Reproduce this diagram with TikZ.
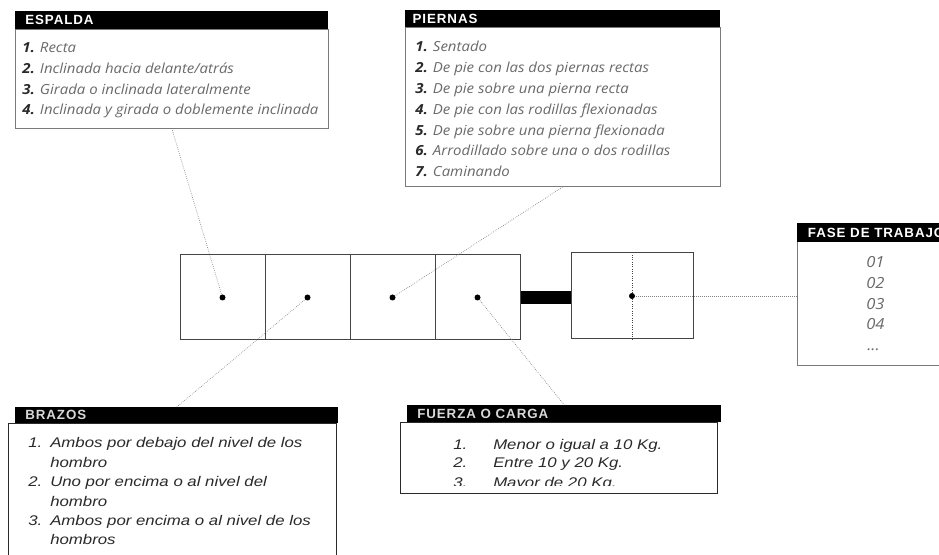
\documentclass[tikz,border=0pt]{standalone}
\usepackage{fontspec}
\setmainfont{Liberation Sans}
\newfontfamily\hdrfont[LetterSpace=7]{Liberation Sans}
\newfontfamily\listfont[FakeStretch=1.08]{Open Sans}
\newfontfamily\formfont[FakeStretch=1.2]{Liberation Sans}
\definecolor{listgray}{HTML}{6A6A6A}
\definecolor{numgray}{HTML}{2A2A2A}
\definecolor{edgegray}{HTML}{7A7A7A}
\definecolor{cellline}{HTML}{444444}
\definecolor{dimwhite}{HTML}{D8D8D8}
% lengths given in pixel units of the drawing grid
\newcommand{\pw}[1]{#1*0.75pt}
\begin{document}
\begin{tikzpicture}[x=0.75pt,y=-0.75pt,
  hdrbar/.style={fill=black, draw=none, anchor=north west, inner sep=0pt},
  hdrtext/.style={anchor=west, inner sep=0pt, text=white,
    font=\hdrfont\bfseries\fontsize{10}{12}\selectfont},
  listbody/.style={anchor=north west, inner sep=0pt, draw=edgegray, line width=0.6pt},
  formbody/.style={anchor=north west, inner sep=0pt, draw=numgray, line width=0.8pt},
  softitem/.style={anchor=base west, inner sep=0pt, text=listgray,
    font=\listfont\itshape\fontsize{10.4}{12}\selectfont},
  formitem/.style={anchor=base west, inner sep=0pt, text=numgray,
    font=\formfont\itshape\fontsize{10.5}{12}\selectfont},
  cell/.style={draw=cellline, line width=0.75pt, minimum width=\pw{85},
    minimum height=\pw{85}, inner sep=0pt},
  leader/.style={draw=gray, line width=0.5pt, densely dotted},
  hubdot/.style={fill=black},
]
\path[use as bounding box, clip] (0,0) rectangle (939,555);
\fill[white] (0,0) rectangle (939,555);

% ---------- posture cells ----------
\node[cell] (c1) at (222.5,297.5) {};
\node[cell] (c2) at (307.5,297.5) {};
\node[cell] (c3) at (392.5,297.5) {};
\node[cell] (c4) at (477.5,297.5) {};
\node[draw=cellline, line width=0.75pt, minimum width=\pw{122},
  minimum height=\pw{86}, inner sep=0pt] (phase) at (632,296) {};
\draw[cellline, densely dotted, line width=0.75pt] (phase.north) -- (phase.south);
\draw[line width=\pw{13}] (c4.east) -- (c4.east -| phase.west);

% ---------- ESPALDA ----------
\node[hdrbar, minimum width=\pw{313}, minimum height=\pw{18}] (espH) at (15,11) {};
\node[hdrtext] (espT) at ([xshift=7.5pt]espH.west) {ESPALDA};
\node[listbody, minimum width=\pw{313}, minimum height=\pw{99}] (esp) at (15,29) {};
\node[softitem] (esp1) at (22,53.0) {\textbf{\color{numgray}1.} Recta};
\node[softitem] (esp2) at (22,73.6) {\textbf{\color{numgray}2.} Inclinada hacia delante/atrás};
\node[softitem] (esp3) at (22,94.2) {\textbf{\color{numgray}3.} Girada o inclinada lateralmente};
\node[softitem] (esp4) at (22,114.8) {\textbf{\color{numgray}4.} Inclinada y girada o doblemente inclinada};

% ---------- PIERNAS ----------
\node[hdrbar, minimum width=\pw{315}, minimum height=\pw{17}] (pieH) at (405,10) {};
\node[hdrtext] (pieT) at ([xshift=5.5pt]pieH.west) {PIERNAS};
\node[listbody, minimum width=\pw{315}, minimum height=\pw{159}] (pie) at (405,27) {};
\node[softitem] (pie1) at (415,52.0) {\textbf{\color{numgray}1.} Sentado};
\node[softitem] (pie2) at (415,72.8) {\textbf{\color{numgray}2.} De pie con las dos piernas rectas};
\node[softitem] (pie3) at (415,93.6) {\textbf{\color{numgray}3.} De pie sobre una pierna recta};
\node[softitem] (pie4) at (415,114.4) {\textbf{\color{numgray}4.} De pie con las rodillas flexionadas};
\node[softitem] (pie5) at (415,135.2) {\textbf{\color{numgray}5.} De pie sobre una pierna flexionada};
\node[softitem] (pie6) at (415,156.0) {\textbf{\color{numgray}6.} Arrodillado sobre una o dos rodillas};
\node[softitem] (pie7) at (415,176.8) {\textbf{\color{numgray}7.} Caminando};

% ---------- FASE DE TRABAJO ----------
\node[hdrbar, minimum width=\pw{160}, minimum height=\pw{19}] (fasH) at (797,223) {};
\node[hdrtext] (fasT) at ([xshift=8pt]fasH.west) {FASE DE TRABAJO};
\node[anchor=north west, inner sep=0pt, minimum width=\pw{160},
  minimum height=\pw{123}] (fas) at (797,242) {};
\draw[edgegray, line width=0.6pt] (fas.north west) -- (fas.south west) -- (fas.south east);
\begin{scope}[softitem/.append style={font=\listfont\itshape\fontsize{11.5}{13}\selectfont}]
  \node[softitem] (fas1) at (866,268) {01};
  \node[softitem] (fas2) at (866,289) {02};
  \node[softitem] (fas3) at (866,309.5) {03};
  \node[softitem] (fas4) at (866,330) {04};
  \node[softitem] (fas5) at (867,351) {...};
\end{scope}

% ---------- BRAZOS ----------
\node[hdrbar, minimum width=\pw{323}, minimum height=\pw{16}] (braH) at (15,407) {};
\node[hdrtext, text=dimwhite] (braT) at ([xshift=7.5pt]braH.west) {BRAZOS};
\node[formbody, minimum width=\pw{328}, minimum height=\pw{150}] (bra) at (8,423) {};
\node[formitem] (bra1) at (28,448.0) {\makebox[16.5pt][l]{1.}Ambos por debajo del nivel de los};
\node[formitem] (bra2) at (50,467.4) {hombro};
\node[formitem] (bra3) at (28,486.8) {\makebox[16.5pt][l]{2.}Uno por encima o al nivel del};
\node[formitem] (bra4) at (50,506.2) {hombro};
\node[formitem] (bra5) at (28,525.6) {\makebox[16.5pt][l]{3.}Ambos por encima o al nivel de los};
\node[formitem] (bra6) at (50,545.0) {hombros};

% ---------- FUERZA O CARGA ----------
\node[hdrbar, minimum width=\pw{314}, minimum height=\pw{17}] (fueH) at (407,405) {};
\node[hdrtext, text=dimwhite] (fueT) at ([xshift=7.5pt]fueH.west) {FUERZA O CARGA};
\node[formbody, minimum width=\pw{317}, minimum height=\pw{71}] (fue) at (400,422) {};
\begin{scope}
  \clip (fue.north west) rectangle ([yshift=6.75pt]fue.south east);
  \node[formitem] (fue1) at (453,450) {\makebox[30pt][l]{1.}Menor o igual a 10 Kg.};
  \node[formitem] (fue2) at (453,468) {\makebox[30pt][l]{2.}Entre 10 y 20 Kg.};
  \node[formitem] (fue3) at (453,487.5) {\makebox[30pt][l]{3.}Mayor de 20 Kg.};
\end{scope}

% ---------- leaders from each cell to its list ----------
\draw[leader] (c1.center) -- (esp.south);
\draw[leader] (c2.center) -- (braH.north);
\draw[leader] (c3.center) -- (pie.south);
\draw[leader] (c4.center) -- (fueH.north);
\draw[leader] (phase.center) -- (phase.center -| fas.west);

% ---------- centre dots ----------
\foreach \c in {c1,c2,c3,c4,phase}
  \fill[hubdot] (\c.center) circle (3);
\end{tikzpicture}
\end{document}
